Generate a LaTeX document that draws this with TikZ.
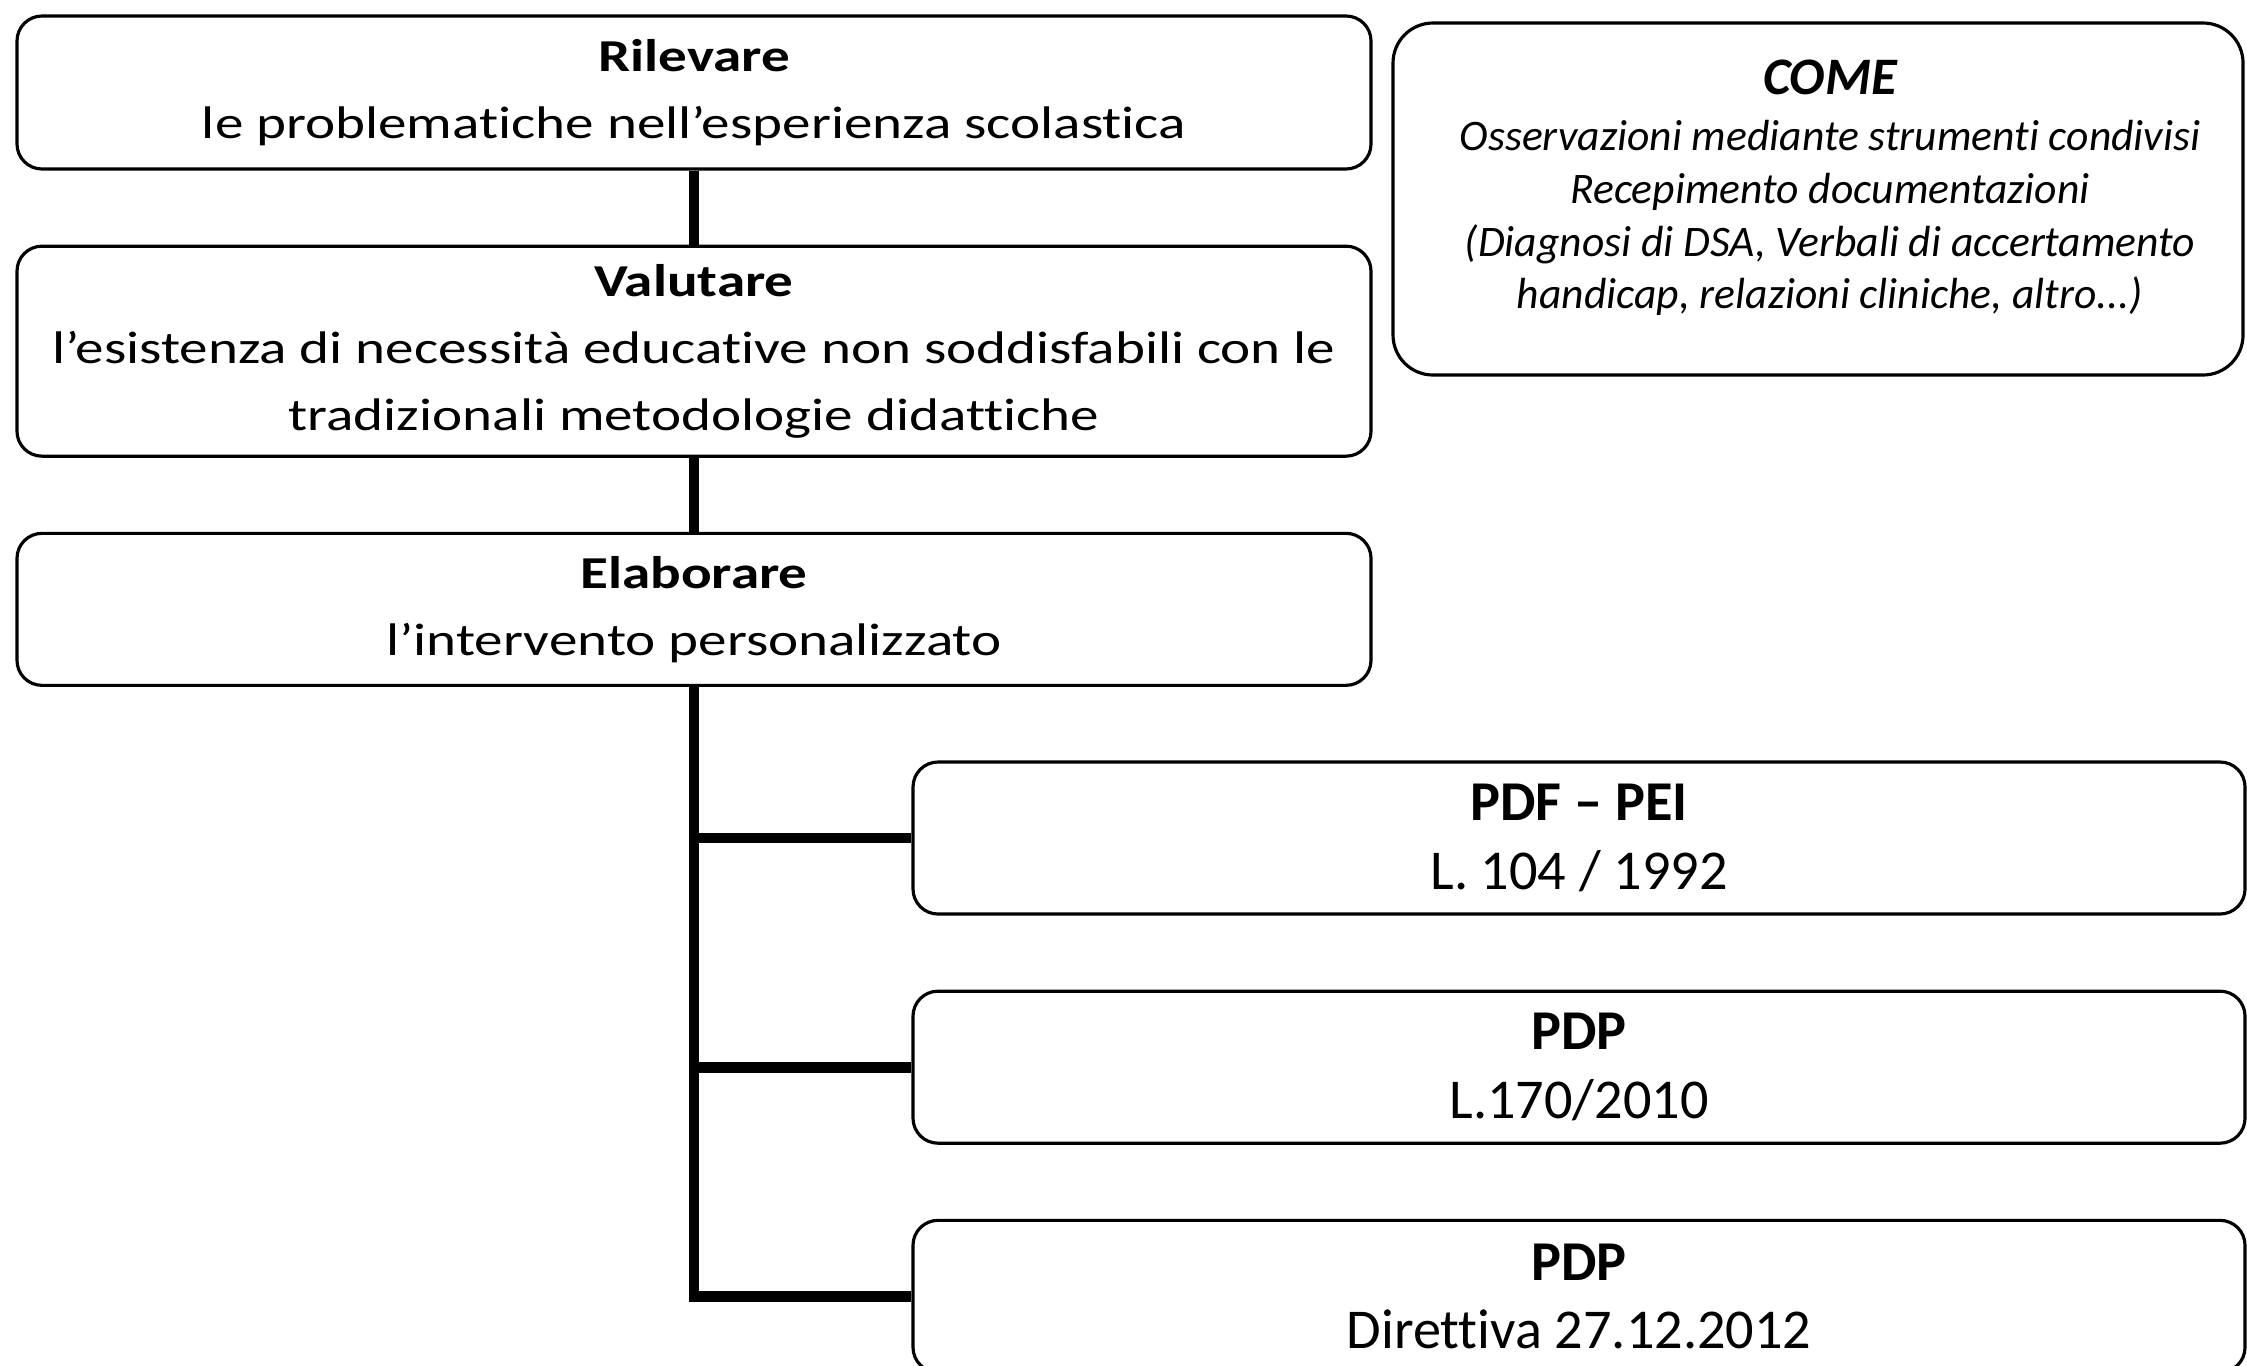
\documentclass[tikz,border=0pt]{standalone}
\usepackage{fontspec}
\setmainfont[Ligatures={NoCommon,NoContextual},Contextuals=NoAlternate]{Carlito}
\newfontfamily\wideface[FakeStretch=1.25,Ligatures={NoCommon,NoContextual},Contextuals=NoAlternate]{Carlito}
\usetikzlibrary{positioning}

\begin{document}
\begin{tikzpicture}[
    stepbox/.style={draw, rounded corners=0.25cm, line width=0.9pt, minimum width=13.54cm, minimum height=1.52cm, align=center, inner sep=2pt, font=\wideface\fontsize{13}{19}\selectfont},
    lawbox/.style={draw, rounded corners=0.25cm, line width=0.9pt, minimum width=13.32cm, minimum height=1.52cm, align=center, inner sep=2pt, font=\fontsize{16}{19.5}\selectfont},
    notebox/.style={draw, rounded corners=0.4cm, line width=0.9pt, minimum width=8.5cm, minimum height=3.52cm},
    trunk/.style={line width=3.1pt}
  ]
  \useasboundingbox (0,0) rectangle (22.47,-13.65);
  \clip (0,0) rectangle (22.47,-13.65);

  % percorso a sinistra
  \node[stepbox, minimum height=1.53cm] (rilevare) at (6.94,-0.925) {\textbf{Rilevare}\\le problematiche nell’esperienza scolastica};
  \node[stepbox, minimum height=2.10cm, below=0.74cm of rilevare] (valutare) {\textbf{Valutare}\\l’esistenza di necessità educative non soddisfabili con le\\tradizionali metodologie didattiche};
  \node[stepbox, below=0.74cm of valutare] (elaborare) {\textbf{Elaborare}\\l’intervento personalizzato};

  % riquadro COME
  \node[notebox] (come) at (18.18,-1.99) {};
  \node[align=center, font=\itshape\fontsize{12.4}{15}\selectfont] (cometext) at ([xshift=0.12cm, yshift=0.11cm]come.center) {{\bfseries\fontsize{15}{15}\selectfont COME}\\[1pt]Osservazioni mediante strumenti condivisi\\Recepimento documentazioni\\(Diagnosi di DSA, Verbali di accertamento\\handicap, relazioni cliniche, altro...)};

  % documenti
  \node[lawbox] (pdfpei) at (15.79,-8.38) {\textbf{PDF – PEI}\\L. 104 / 1992};
  \node[lawbox, below=0.74cm of pdfpei] (pdpdsa) {\textbf{PDP}\\L.170/2010};
  \node[lawbox, below=0.74cm of pdpdsa] (pdpbes) {\textbf{PDP}\\Direttiva 27.12.2012};

  \draw[trunk] (rilevare) -- (valutare);
  \draw[trunk] (valutare) -- (elaborare);
  \draw[trunk] (elaborare.south) |- (pdpbes.west);
  \draw[trunk] (elaborare.south) |- (pdfpei.west);
  \draw[trunk] (elaborare.south) |- (pdpdsa.west);
\end{tikzpicture}
\end{document}
